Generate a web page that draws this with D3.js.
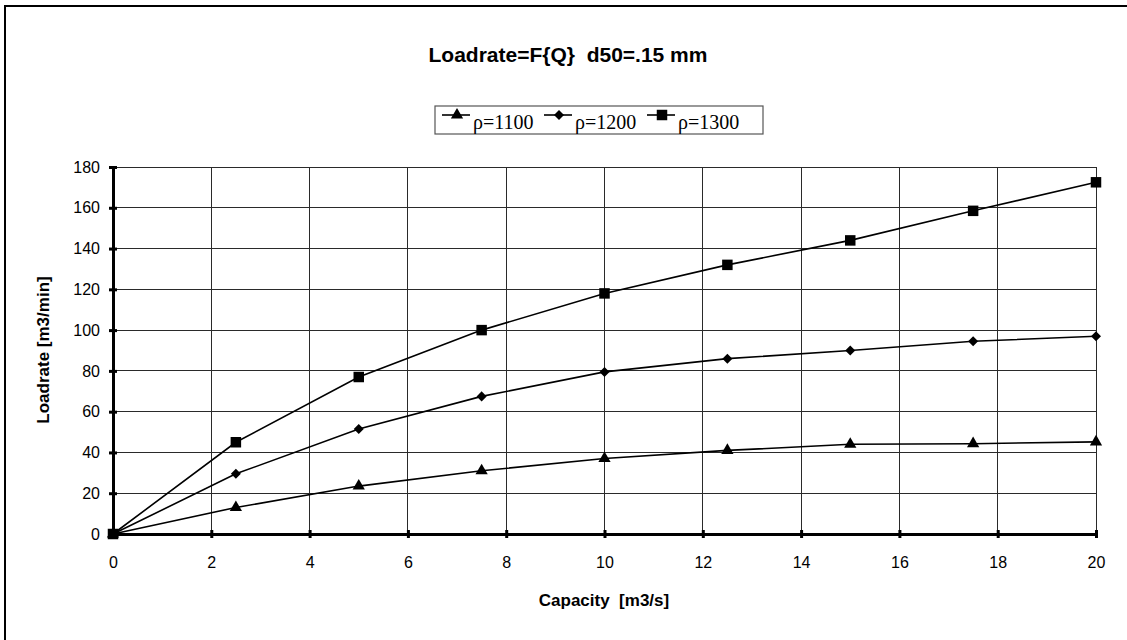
<!DOCTYPE html>
<html><head><meta charset="utf-8">
<script src="https://cdn.jsdelivr.net/npm/d3@7"></script>
<style>body{margin:0;background:#fff}svg{display:block}</style>
</head><body>
<svg id="c" width="1127" height="640"></svg>
<script>
const capacity = [0, 2.5, 5, 7.5, 10, 12.5, 15, 17.5, 20];
const rho1100 = [0, 13, 23.5, 31, 37, 41, 44, 44.3, 45.2];
const rho1200 = [0, 29.5, 51.5, 67.5, 79.5, 86, 90, 94.5, 97];
const rho1300 = [0, 45, 77, 100, 118, 132, 144, 158.5, 172.5];
const seriesNames = ["ρ=1100", "ρ=1200", "ρ=1300"];
const seriesMarkers = ["triangle", "diamond", "square"];
const xTicks = [0,2,4,6,8,10,12,14,16,18,20];
const yTicks = [0,20,40,60,80,100,120,140,160,180];
const title = "Loadrate=F{Q}  d50=.15 mm";
const xTitle = "Capacity  [m3/s]";
const yTitle = "Loadrate [m3/min]";

const sans = "Arial, 'Liberation Sans', sans-serif";
const serif = "'Times New Roman', 'Liberation Serif', serif";
const svg = d3.select("#c");
const L = 113, R = 1096, T = 167, B = 534;
const x = d3.scaleLinear().domain([0,20]).range([L,R]);
const y = d3.scaleLinear().domain([0,180]).range([B,T]);

// outer frame
svg.append("rect").attr("x",5).attr("y",6).attr("width",1140).attr("height",660)
  .attr("fill","none").attr("stroke","#000").attr("stroke-width",2);

// grid
svg.append("g").selectAll("line").data(yTicks.slice(1)).join("line")
  .attr("x1",L).attr("x2",R).attr("y1",d=>y(d)).attr("y2",d=>y(d))
  .attr("stroke","#2a2a2a").attr("stroke-width",1).attr("shape-rendering","crispEdges");
svg.append("g").selectAll("line").data(xTicks.slice(1)).join("line")
  .attr("x1",d=>x(d)).attr("x2",d=>x(d)).attr("y1",T).attr("y2",B)
  .attr("stroke","#2a2a2a").attr("stroke-width",1).attr("shape-rendering","crispEdges");

// axes
const xAxis = svg.append("g").attr("transform",`translate(0,${B})`)
  .call(d3.axisBottom(x).tickValues(xTicks).tickSize(5).tickSizeOuter(0).tickPadding(18));
const yAxis = svg.append("g").attr("transform",`translate(${L},0)`)
  .call(d3.axisLeft(y).tickValues(yTicks).tickSize(5).tickSizeOuter(0).tickPadding(8));
[xAxis,yAxis].forEach(a=>{
  a.select(".domain").attr("stroke","#000").attr("stroke-width",3);
  a.selectAll(".tick line").attr("stroke","#000").attr("stroke-width",3);
  a.selectAll(".tick text").attr("font-family",sans).attr("font-size",16).attr("fill","#000");
});
xAxis.selectAll(".tick line").attr("y1",-4).attr("y2",4);
yAxis.selectAll(".tick line").attr("x1",-4).attr("x2",4);

// series
const series = [rho1100, rho1200, rho1300];
const line = d3.line().x((d,i)=>x(capacity[i])).y(d=>y(d));
const symType = {triangle:d3.symbolTriangle, diamond:d3.symbolDiamond2, square:d3.symbolSquare};
const symSize = {triangle:65, diamond:64, square:110};
series.forEach((s,k)=>{
  svg.append("path").datum(s).attr("d",line).attr("fill","none").attr("stroke","#000").attr("stroke-width",1.6);
  svg.append("g").selectAll("path").data(s).join("path")
    .attr("transform",(d,i)=>`translate(${x(capacity[i])},${y(d)})`)
    .attr("d",d3.symbol().type(symType[seriesMarkers[k]]).size(symSize[seriesMarkers[k]]))
    .attr("fill","#000");
});

// titles
svg.append("text").attr("x",568).attr("y",62).attr("text-anchor","middle").style("white-space","pre")
  .attr("font-family",sans).attr("font-weight","bold").attr("font-size",21).text(title);
svg.append("text").attr("x",604).attr("y",606).attr("text-anchor","middle").style("white-space","pre")
  .attr("font-family",sans).attr("font-weight","bold").attr("font-size",17).text(xTitle);
svg.append("text").attr("transform","translate(49,350) rotate(-90)").attr("text-anchor","middle")
  .attr("font-family",sans).attr("font-weight","bold").attr("font-size",17).text(yTitle);

// legend
const lg = svg.append("g");
const lgX = 435, lgY = 106, lgW = 328, lgH = 28;
lg.append("rect").attr("x",lgX).attr("y",lgY).attr("width",lgW).attr("height",lgH)
  .attr("fill","#fff").attr("stroke","#555").attr("stroke-width",1.2);
const itemX = [442, 544, 647];
seriesNames.forEach((n,k)=>{
  const cx = itemX[k];
  const cy = lgY + 9;
  lg.append("line").attr("x1",cx).attr("x2",cx+28).attr("y1",cy).attr("y2",cy).attr("stroke","#000").attr("stroke-width",1.6);
  lg.append("path").attr("transform",`translate(${cx+15},${cy})`)
    .attr("d",d3.symbol().type(symType[seriesMarkers[k]]).size(symSize[seriesMarkers[k]])).attr("fill","#000");
  lg.append("text").attr("x",cx+31).attr("y",lgY+23)
    .attr("font-family",serif).attr("font-size",20).text(n);
});
</script>
</body></html>
